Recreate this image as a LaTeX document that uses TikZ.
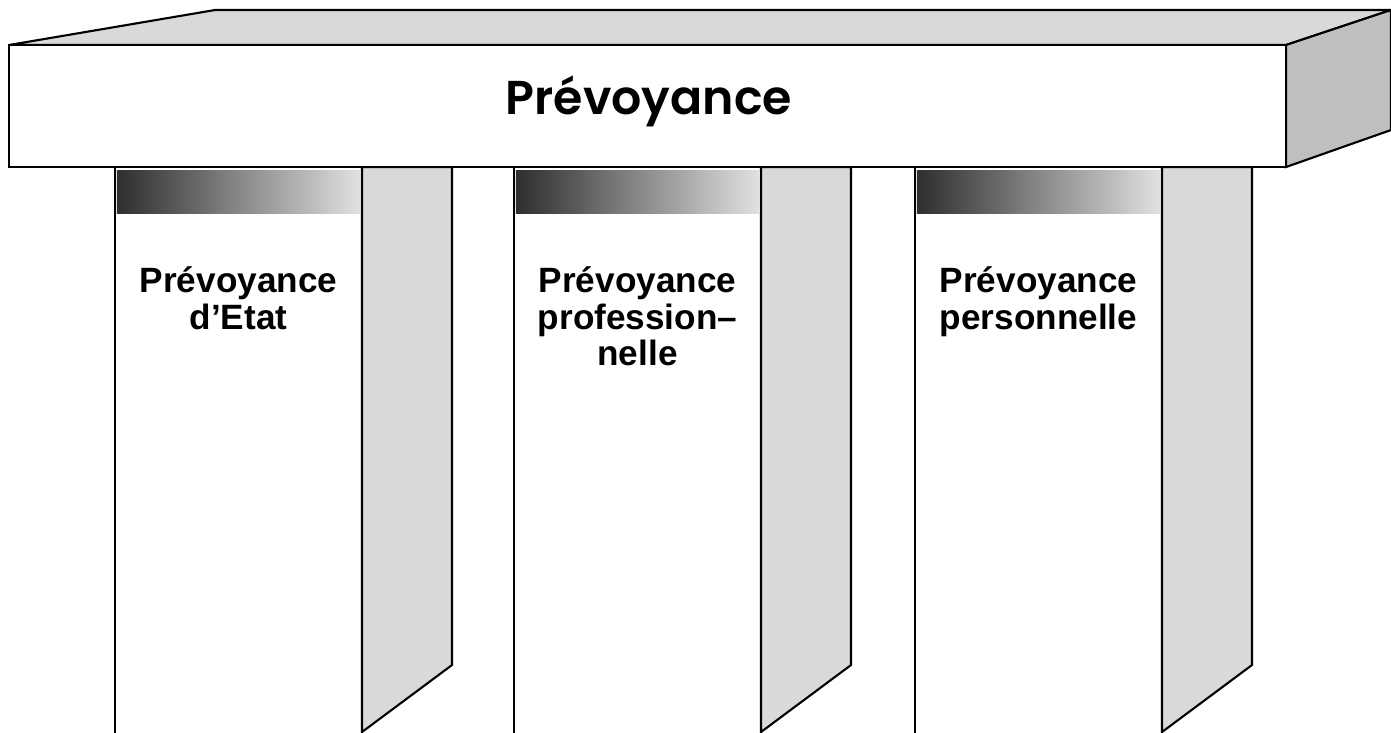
\documentclass[tikz,border=0pt]{standalone}
\usepackage{fontspec}
\setmainfont{Liberation Sans}
\newfontfamily\titlefont{Poppins SemiBold}
\usepackage{tikz}
\usetikzlibrary{positioning}
\definecolor{topgray}{gray}{0.85}
\definecolor{sidegray}{gray}{0.75}
\definecolor{legray}{gray}{0.85}
\def\FrontW{247}
\def\SideW{90}

\begin{document}
\begin{tikzpicture}[x=0.01cm,y=-0.01cm,line width=0.6pt,
	face/.style={draw=black,line join=miter},
	bar/.style={minimum width=2.43cm,minimum height=0.43cm,inner sep=0pt,
		left color=black!82,right color=black!12},
	pillarlabel/.style={font=\bfseries\fontsize{10}{8.9}\selectfont,align=center,inner sep=0pt}]
	\useasboundingbox (0,0) rectangle (1391,732);
	% the three pillars
	\foreach \px/\name/\txt in {115/etat/{Prévoyance\\d’Etat},
		514/prof/{Prévoyance\\profession–\\nelle},
		915/pers/{Prévoyance\\personnelle}}{
		\draw[face,fill=white] (\px,167) rectangle (\px+\FrontW,745);
		\draw[face,fill=legray] (\px+\FrontW,167) -- (\px+\FrontW+\SideW,167)
			-- (\px+\FrontW+\SideW,665) -- (\px+\FrontW,732) -- cycle;
		\node[bar] (\name bar) at (\px+123.5,191.5) {};
		\node[pillarlabel,below=0.52cm of \name bar] (\name) {\txt};
	}
	% 
	% the slab on top
	\draw[face,fill=topgray] (9,45) -- (215,10) -- (1391,10) -- (1286,45) -- cycle;
	\draw[face,fill=sidegray] (1286,45) -- (1391,10) -- (1391,130) -- (1286,167) -- cycle;
	\draw[face,fill=white] (9,45) rectangle (1286,167);
	\node[font=\titlefont\fontsize{13.5}{13.5}\selectfont] (title) at (649,101) {Prévoyance};
\end{tikzpicture}
\end{document}
